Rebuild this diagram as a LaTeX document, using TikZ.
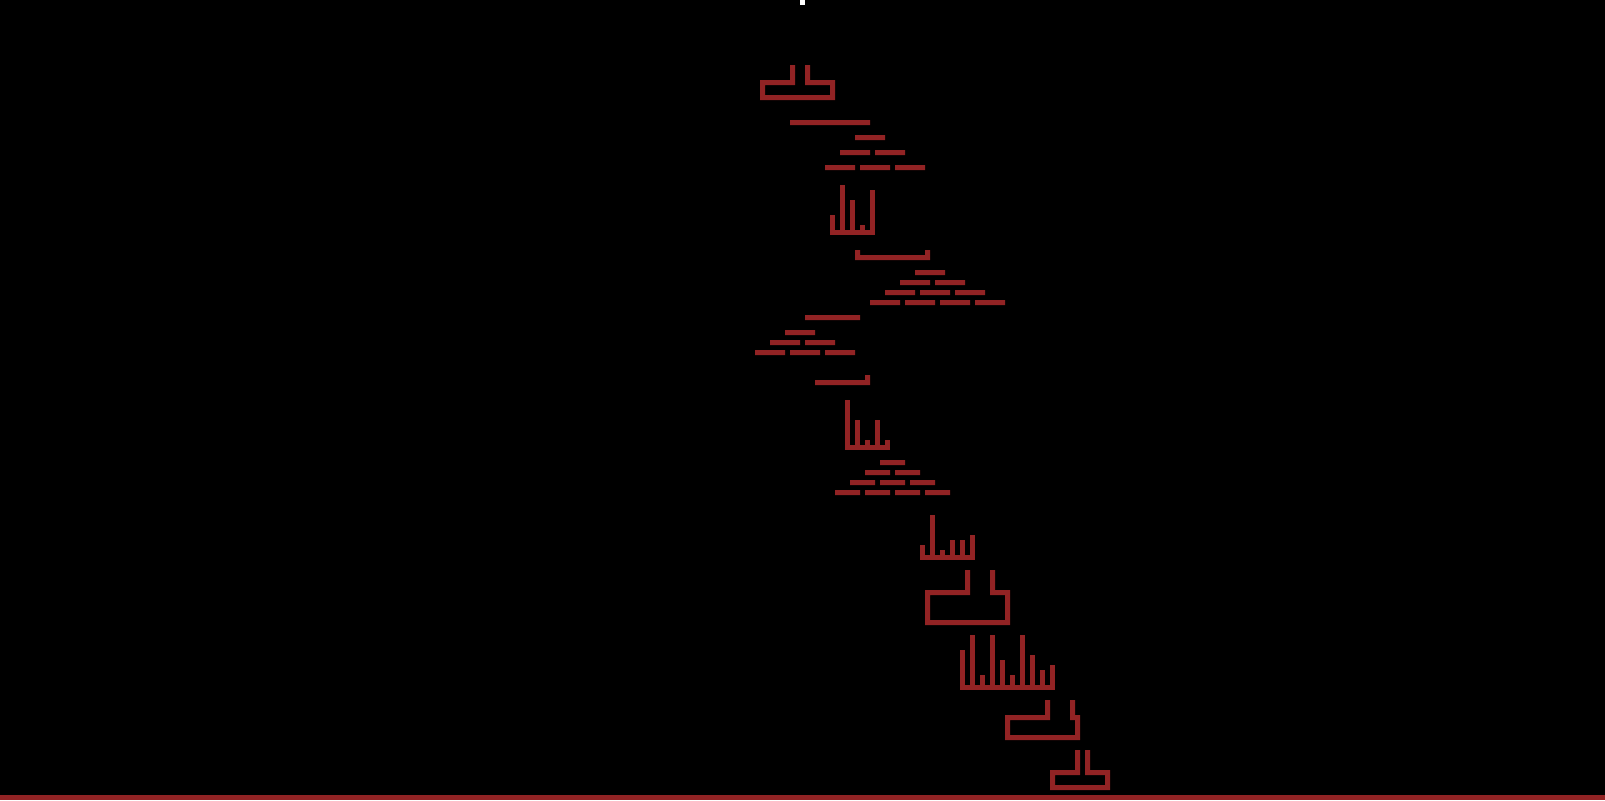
\documentclass[tikz,border=0pt]{standalone}
\definecolor{brick}{RGB}{146,35,36}
\tikzset{px/.style={fill=brick}, bg/.style={fill=black}}
\begin{document}
\begin{tikzpicture}[x=0.5pt,y=-0.5pt]
\fill[bg] (0,0) rectangle (1605,800);
\useasboundingbox (0,0) rectangle (1605,800);
\fill[white] (800,0) rectangle (805,5);
% T1
\fill[px] (760,80) rectangle (795,85) (790,65) rectangle (795,85) (805,65) rectangle (810,85)
 (805,80) rectangle (835,85) (760,80) rectangle (765,100) (830,80) rectangle (835,100) (760,95) rectangle (835,100);
% Pyramid A
\fill[px] (790,120) rectangle (870,125) (855,135) rectangle (885,140)
 (840,150) rectangle (870,155) (875,150) rectangle (905,155)
 (825,165) rectangle (855,170) (860,165) rectangle (890,170) (895,165) rectangle (925,170);
% Bar chart A
\fill[px] (830,230) rectangle (875,235);
\foreach \x/\t in {830/215,840/185,850/200,860/225,870/190} \fill[px] (\x,\t) rectangle (\x+5,235);
% Bracket B
\fill[px] (855,250) rectangle (860,260) (925,250) rectangle (930,260) (855,255) rectangle (930,260);
% Pyramid B
\fill[px] (915,270) rectangle (945,275)
 (900,280) rectangle (930,285) (935,280) rectangle (965,285)
 (885,290) rectangle (915,295) (920,290) rectangle (950,295) (955,290) rectangle (985,295)
 (870,300) rectangle (900,305) (905,300) rectangle (935,305) (940,300) rectangle (970,305) (975,300) rectangle (1005,305);
% Pyramid C
\fill[px] (805,315) rectangle (860,320) (785,330) rectangle (815,335)
 (770,340) rectangle (800,345) (805,340) rectangle (835,345)
 (755,350) rectangle (785,355) (790,350) rectangle (820,355) (825,350) rectangle (855,355);
% Bracket D
\fill[px] (815,380) rectangle (870,385) (865,375) rectangle (870,385);
% Bar chart D
\fill[px] (845,445) rectangle (890,450);
\foreach \x/\t in {845/400,855/420,865/440,875/420,885/440} \fill[px] (\x,\t) rectangle (\x+5,450);
% Pyramid E
\fill[px] (880,460) rectangle (905,465)
 (865,470) rectangle (890,475) (895,470) rectangle (920,475)
 (850,480) rectangle (875,485) (880,480) rectangle (905,485) (910,480) rectangle (935,485)
 (835,490) rectangle (860,495) (865,490) rectangle (890,495) (895,490) rectangle (920,495) (925,490) rectangle (950,495);
% Bar chart F
\fill[px] (920,555) rectangle (975,560);
\foreach \x/\t in {920/545,930/515,940/550,950/540,960/540,970/535} \fill[px] (\x,\t) rectangle (\x+5,560);
% T F
\fill[px] (925,590) rectangle (970,595) (965,570) rectangle (970,595) (990,570) rectangle (995,595)
 (990,590) rectangle (1010,595) (925,590) rectangle (930,625) (1005,590) rectangle (1010,625) (925,620) rectangle (1010,625);
% Bar chart G
\fill[px] (960,685) rectangle (1055,690);
\foreach \x/\t in {960/650,970/635,980/675,990/635,1000/660,1010/675,1020/635,1030/655,1040/670,1050/665} \fill[px] (\x,\t) rectangle (\x+5,690);
% T G
\fill[px] (1005,715) rectangle (1050,720) (1045,700) rectangle (1050,720) (1070,700) rectangle (1075,720)
 (1070,715) rectangle (1080,720) (1075,715) rectangle (1080,740) (1005,715) rectangle (1010,740) (1005,735) rectangle (1080,740);
% T H
\fill[px] (1050,770) rectangle (1080,775) (1075,750) rectangle (1080,775) (1085,750) rectangle (1090,775)
 (1085,770) rectangle (1110,775) (1050,770) rectangle (1055,790) (1105,770) rectangle (1110,790) (1050,785) rectangle (1110,790);
% ground
\fill[px] (0,795) rectangle (1605,800);
\end{tikzpicture}
\end{document}
